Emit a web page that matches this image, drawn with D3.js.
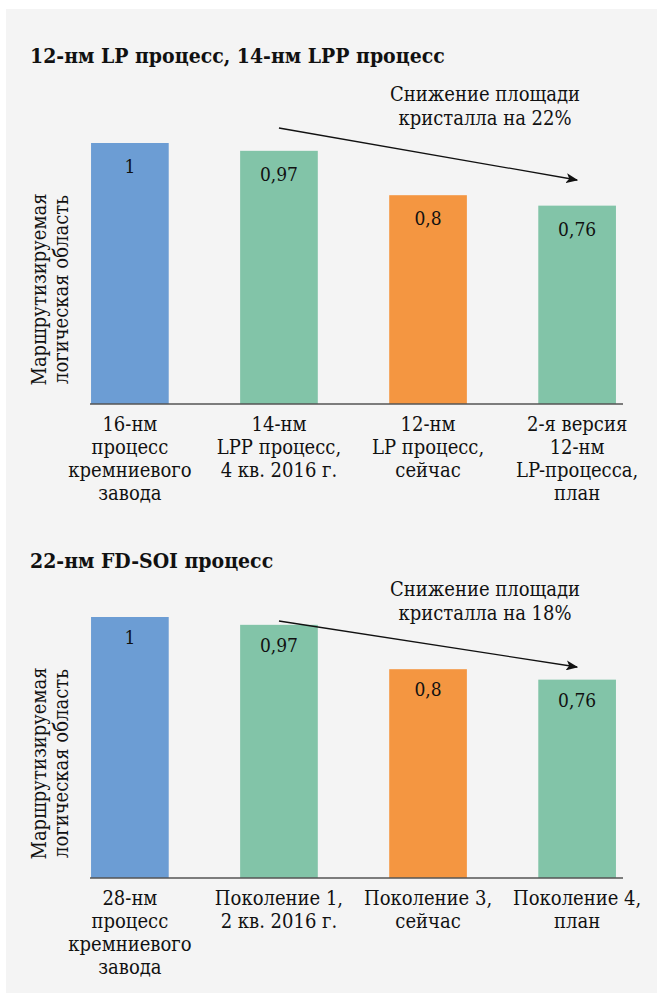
<!DOCTYPE html>
<html>
<head>
<meta charset="utf-8">
<script src="https://cdn.jsdelivr.net/npm/d3@7"></script>
<style>
  body { margin: 0; background: #ffffff; }
  svg text { font-family: "DejaVu Serif", "Liberation Serif", serif; font-stretch: condensed; fill: #111; }
</style>
</head>
<body>
<svg id="chart" width="666" height="999"></svg>
<script>
// ---- data ----
const titleLP = "12-нм LP процесс, 14-нм LPP процесс";
const categoriesLP = [
  ["16-нм", "процесс", "кремниевого", "завода"],
  ["14-нм", "LPP процесс,", "4 кв. 2016 г."],
  ["12-нм", "LP процесс,", "сейчас"],
  ["2-я версия", "12-нм", "LP-процесса,", "план"]
];
const valuesLP = [1, 0.97, 0.8, 0.76];
const noteLP = ["Снижение площади", "кристалла на 22%"];

const titleFDSOI = "22-нм FD-SOI процесс";
const categoriesFDSOI = [
  ["28-нм", "процесс", "кремниевого", "завода"],
  ["Поколение 1,", "2 кв. 2016 г."],
  ["Поколение 3,", "сейчас"],
  ["Поколение 4,", "план"]
];
const valuesFDSOI = [1, 0.97, 0.8, 0.76];
const noteFDSOI = ["Снижение площади", "кристалла на 18%"];

const stages = ["foundry", "current", "now", "plan"];
const yTitle = ["Маршрутизируемая", "логическая область"];

// ---- styles ----
const stageColor = d3.scaleOrdinal()
  .domain(["foundry", "current", "now", "plan"])
  .range(["#6c9dd4", "#82c4a8", "#f49641", "#82c4a8"]);

const svg = d3.select("#chart");

// panel background
svg.append("rect")
  .attr("x", 6).attr("y", 9)
  .attr("width", 651).attr("height", 984)
  .attr("fill", "#f4f4f4");

// arrowhead
svg.append("defs").append("marker")
  .attr("id", "arrowhead")
  .attr("viewBox", "0 0 12 10")
  .attr("refX", 11).attr("refY", 5)
  .attr("markerWidth", 12).attr("markerHeight", 10)
  .attr("markerUnits", "userSpaceOnUse")
  .attr("orient", "auto")
  .append("path")
  .attr("d", "M0,0 L12,5 L0,10 L3,5 Z")
  .attr("fill", "#111");

const fmt = v => String(v).replace(".", ",");

function drawPanel(cfg) {
  const { title, categories, values, note, layout } = cfg;
  const g = svg.append("g");

  const x = d3.scaleBand()
    .domain(d3.range(categories.length))
    .range([90, 617])
    .paddingInner(0.479)
    .paddingOuter(0.007);

  const y = d3.scaleLinear()
    .domain([0, 1])
    .range([layout.base, layout.top]);

  // title
  g.append("text")
    .attr("x", 30).attr("y", layout.titleY)
    .attr("font-size", 21).attr("font-weight", "bold")
    .text(title);

  // annotation text
  g.append("g").selectAll("text")
    .data(note)
    .join("text")
    .attr("x", 485)
    .attr("y", (d, i) => layout.noteY + i * 24)
    .attr("text-anchor", "middle")
    .attr("font-size", 20)
    .text(d => d);

  // bars
  g.append("g").selectAll("rect")
    .data(values)
    .join("rect")
    .attr("x", (d, i) => x(i))
    .attr("y", d => y(d))
    .attr("width", x.bandwidth())
    .attr("height", d => y(0) - y(d))
    .attr("fill", (d, i) => stageColor(stages[i]));

  // value labels
  g.append("g").selectAll("text")
    .data(values)
    .join("text")
    .attr("x", (d, i) => x(i) + x.bandwidth() / 2)
    .attr("y", d => y(d) + layout.labelDy)
    .attr("text-anchor", "middle")
    .attr("font-size", 19)
    .text(d => fmt(d));

  // category axis
  const axis = g.append("g")
    .attr("transform", `translate(0,${layout.base})`)
    .call(d3.axisBottom(x).tickSize(0).tickSizeOuter(0).tickFormat(""));
  axis.select(".domain").remove();
  axis.append("line")
    .attr("x1", x.range()[0]).attr("x2", x.range()[1] + 6)
    .attr("stroke", "#555").attr("stroke-width", 1.6);
  axis.selectAll(".tick text")
    .attr("y", 0).attr("dy", null)
    .attr("font-size", 20)
    .attr("fill", "#111")
    .style("font-family", null)
    .each(function (i) {
      const t = d3.select(this);
      categories[i].forEach((line, k) => {
        t.append("tspan")
          .attr("x", 0)
          .attr("y", 27 + k * 23)
          .text(line);
      });
    });

  // y axis title
  const mid = (layout.top + layout.base) / 2 + 16;
  g.append("g")
    .attr("transform", `translate(0,${mid}) rotate(-90)`)
    .selectAll("text")
    .data(yTitle)
    .join("text")
    .attr("x", 0)
    .attr("y", (d, i) => 46 + i * 22)
    .attr("text-anchor", "middle")
    .attr("font-size", 20)
    .text(d => d);

  // trend arrow from the second bar to the last
  const cx = i => x(i) + x.bandwidth() / 2;
  g.append("line")
    .attr("x1", cx(1)).attr("y1", layout.arrow[0])
    .attr("x2", cx(values.length - 1)).attr("y2", layout.arrow[1])
    .attr("stroke", "#111").attr("stroke-width", 1.3)
    .attr("marker-end", "url(#arrowhead)");
}

drawPanel({
  title: titleLP, categories: categoriesLP, values: valuesLP, note: noteLP,
  layout: { titleY: 63, noteY: 101, top: 143, base: 404, labelDy: 30, arrow: [128, 180] }
});

drawPanel({
  title: titleFDSOI, categories: categoriesFDSOI, values: valuesFDSOI, note: noteFDSOI,
  layout: { titleY: 568, noteY: 596, top: 617, base: 878, labelDy: 27, arrow: [621, 667] }
});
</script>
</body>
</html>
